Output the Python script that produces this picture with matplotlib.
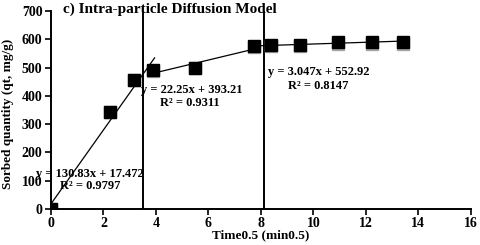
import matplotlib
matplotlib.use("Agg")
import matplotlib.pyplot as plt
import numpy as np

# sqrt(t) values and sorbed quantity
t_sqrt = [0, 2.236, 3.162, 3.873, 5.477, 7.746, 8.367, 9.487, 10.954, 12.247, 13.416]
qt = [0, 343, 455, 490, 500, 577, 580, 580, 590, 590, 592]
qt_rep = [0, 343, 455, 487, 497, 573, 576, 578, 582, 582, 584]

# linear fits: (slope, intercept, x range, label lines)
fits = [
    (130.83, 17.472, (0, 3.95), "y = 130.83x + 17.472", "R² = 0.9797"),
    (22.25, 393.21, (3.87, 7.75), "y = 22.25x + 393.21", "R² = 0.9311"),
    (3.047, 552.92, (7.75, 13.42), "y = 3.047x + 552.92", "R² = 0.8147"),
]
vlines = [3.5, 8.1]

plt.rcParams["font.family"] = ["Liberation Serif", "DejaVu Serif"]
plt.rcParams["font.weight"] = "bold"

fig = plt.figure(figsize=(4.8, 2.45), dpi=100)
ax = fig.add_axes([0.106, 0.147, 0.875, 0.808])

ax.plot(t_sqrt, qt_rep, "s", color="#a6a6a6", ms=8, zorder=2)
ax.plot(t_sqrt, qt, "s", color="black", ms=8, zorder=3)

for m, b, (x0, x1), _, _ in fits:
    xs = np.array([x0, x1])
    ax.plot(xs, m * xs + b, color="black", lw=0.9, zorder=4)

for xv in vlines:
    ax.axvline(xv, color="black", lw=1.4, zorder=1)

ts = dict(fontsize=9, fontweight="bold", zorder=5)
ax.text(1.5, 124, fits[0][3], ha="center", va="center", **ts)
ax.text(1.5, 80, fits[0][4], ha="center", va="center", **ts)
ax.text(5.35, 421, fits[1][3], ha="center", va="center", **ts)
ax.text(5.3, 375, fits[1][4], ha="center", va="center", **ts)
ax.text(10.2, 483, fits[2][3], ha="center", va="center", **ts)
ax.text(10.2, 436, fits[2][4], ha="center", va="center", **ts)

ax.set_xlim(0, 16)
ax.set_ylim(0, 700)
ax.set_xticks(range(0, 17, 2))
ax.set_yticks(range(0, 701, 100))
for s in ("top", "right"):
    ax.spines[s].set_visible(False)
for s in ("left", "bottom"):
    ax.spines[s].set_linewidth(1.4)
ax.tick_params(labelsize=10, width=1.2, length=4, pad=2)
for lab in ax.get_xticklabels() + ax.get_yticklabels():
    lab.set_fontweight("bold")
ax.set_xlabel("Time0.5 (min0.5)", fontsize=9.5, fontweight="bold", labelpad=-1)
ax.set_ylabel("Sorbed quantity (qt, mg/g)", fontsize=9.5, fontweight="bold")
ax.yaxis.set_label_coords(-0.088, 0.48)
ax.text(0.45, 707, "c) Intra-particle Diffusion Model", fontsize=11,
        fontweight="bold", va="center", ha="left")

fig.savefig("out.png", dpi=100)
